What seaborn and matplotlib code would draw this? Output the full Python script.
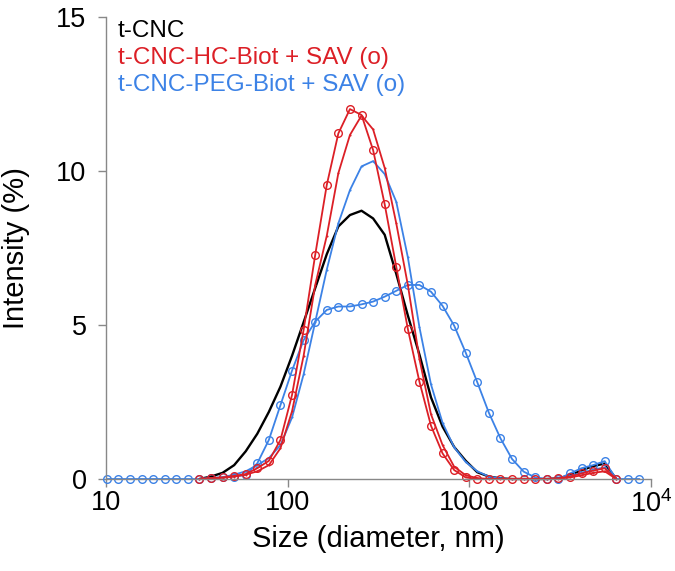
import numpy as np
import seaborn as sns
import matplotlib.pyplot as plt

sns.set_theme(style="white")
plt.rcParams['font.family'] = ['Liberation Sans', 'DejaVu Sans']
plt.rcParams['mathtext.default'] = 'regular'

nan = np.nan

# DLS size bins (nm)
tamanhos = [10.1, 11.7, 13.54, 15.69, 18.17, 21.04, 24.36, 28.21, 32.67, 37.84,
            43.82, 50.75, 58.77, 68.06, 78.82, 91.28, 105.7, 122.4, 141.8, 164.2,
            190.1, 220.2, 255.0, 295.3, 342.0, 396.1, 458.7, 531.2, 615.1, 712.4,
            825.0, 955.4, 1106, 1281, 1484, 1718, 1990, 2305, 2669, 3091,
            3580, 4145, 4801, 5560, 6439, 7456, 8635, 10000]

# intensidade (%) por bin
t_cnc = [nan, nan, nan, nan, nan, nan, nan, nan, 0.0, 0.08,
         0.2, 0.45, 0.9, 1.47, 2.18, 3.0, 4.0, 5.09, 6.2, 7.3,
         8.2, 8.57, 8.71, 8.46, 7.93, 6.66, 5.31, 4.04, 2.65, 1.7,
         1.04, 0.59, 0.22, 0.08, 0.02, 0.0, 0.0, 0.0, 0.0, 0.02,
         0.12, 0.28, 0.42, 0.5, 0.0, nan, nan, nan]

hc_biot_1 = [nan, nan, nan, nan, nan, nan, nan, nan, 0.0, 0.03,
             0.05, 0.1, 0.16, 0.35, 0.59, 1.27, 2.73, 4.84, 7.28, 9.55,
             11.22, 12.01, 11.82, 10.68, 8.92, 6.89, 4.87, 3.16, 1.73, 0.83,
             0.29, 0.05, 0.0, 0.0, 0.0, 0.0, 0.0, 0.0, 0.0, 0.02,
             0.08, 0.18, 0.27, 0.35, 0.0, nan, nan, nan]

hc_biot_2 = [nan, nan, nan, nan, nan, nan, nan, nan, 0.0, 0.02,
             0.04, 0.08, 0.14, 0.25, 0.45, 1.0, 2.2, 4.0, 6.3, 7.9,
             9.93, 11.17, 11.8, 11.35, 10.1, 8.3, 6.3, 3.9, 2.1, 1.1,
             0.4, 0.12, 0.03, 0.0, 0.0, 0.0, 0.0, 0.0, 0.0, 0.01,
             0.05, 0.12, 0.2, 0.25, 0.0, nan, nan, nan]

peg_biot_1 = [0.0, 0.0, 0.0, 0.0, 0.0, 0.0, 0.0, 0.0, 0.0, 0.03,
              0.05, 0.08, 0.13, 0.51, 1.27, 2.4, 3.52, 4.51, 5.11, 5.49,
              5.6, 5.6, 5.67, 5.76, 5.92, 6.11, 6.3, 6.3, 6.08, 5.62,
              4.98, 4.1, 3.14, 2.15, 1.32, 0.65, 0.24, 0.05, 0.0, 0.0,
              0.18, 0.35, 0.45, 0.58, 0.0, 0.0, 0.0, nan]

peg_biot_2 = [nan, nan, nan, nan, nan, nan, nan, nan, 0.0, 0.03,
              0.06, 0.14, 0.25, 0.45, 0.68, 1.1, 2.0, 3.4, 5.1, 6.8,
              8.3, 9.38, 10.15, 10.32, 9.9, 9.0, 7.2, 4.93, 3.07, 1.82,
              1.03, 0.55, 0.25, 0.08, 0.02, 0.0, 0.0, 0.0, 0.0, 0.02,
              0.1, 0.2, 0.3, 0.38, 0.0, nan, nan, nan]

legenda = ['t-CNC', 't-CNC-HC-Biot + SAV (o)', 't-CNC-PEG-Biot + SAV (o)']

vermelho = '#DC1F26'
azul = '#3C82E6'

fig = plt.figure(figsize=(6.75, 5.71), dpi=100)
ax = fig.add_axes([106 / 675, 92 / 571, 545 / 675, 462 / 571])

series = [
    (t_cnc, 'black', None, 1.7),
    (peg_biot_2, azul, '.', 1.3),
    (peg_biot_1, azul, 'o', 1.3),
    (hc_biot_2, vermelho, '.', 1.3),
    (hc_biot_1, vermelho, 'o', 1.3),
]

for valores, cor, marcador, lw in series:
    x = np.array(tamanhos)
    y = np.array(valores, dtype=float)
    ok = ~np.isnan(y)
    kw = dict(linewidth=lw, color=cor, estimator=None, ax=ax, clip_on=False)
    if marcador == 'o':
        kw.update(marker='o', markersize=5.5, markerfacecolor='none',
                  markeredgecolor=cor, markeredgewidth=1.0)
    elif marcador == '.':
        kw.update(marker='.', markersize=3, markeredgewidth=0)
    sns.lineplot(x=x[ok], y=y[ok], **kw)

ax.set_xscale('log')
ax.set_xlim(10, 10000)
ax.set_ylim(0, 15)
ax.set_xticks([10, 100, 1000, 10000])
ax.set_xticklabels(['10', '100', '1000', '$10^4$'])
ax.set_yticks([0, 5, 10, 15])
ax.minorticks_off()

ax.tick_params(axis='both', labelsize=19.5, colors='#888888', labelcolor='black',
               direction='out', length=6, width=1, bottom=True, left=True)
ax.tick_params(axis='y', pad=8)
ax.tick_params(axis='x', pad=2)

for lado in ['top', 'right']:
    ax.spines[lado].set_visible(False)
for lado in ['left', 'bottom']:
    ax.spines[lado].set_color('#888888')
    ax.spines[lado].set_linewidth(1.0)

ax.set_xlabel('Size (diameter, nm)', fontsize=21, color='black')
ax.set_ylabel('Intensity (%)', fontsize=21, color='black')
ax.xaxis.set_label_coords(0.5, -0.10)
ax.yaxis.set_label_coords(-0.14, 0.5)

for texto, cor, yy in zip(legenda, ['black', vermelho, azul], [0.957, 0.898, 0.840]):
    ax.text(0.022, yy, texto, color=cor, fontsize=17.5, transform=ax.transAxes,
            va='baseline', ha='left')

plt.savefig('out.png', dpi=100)
plt.close()
